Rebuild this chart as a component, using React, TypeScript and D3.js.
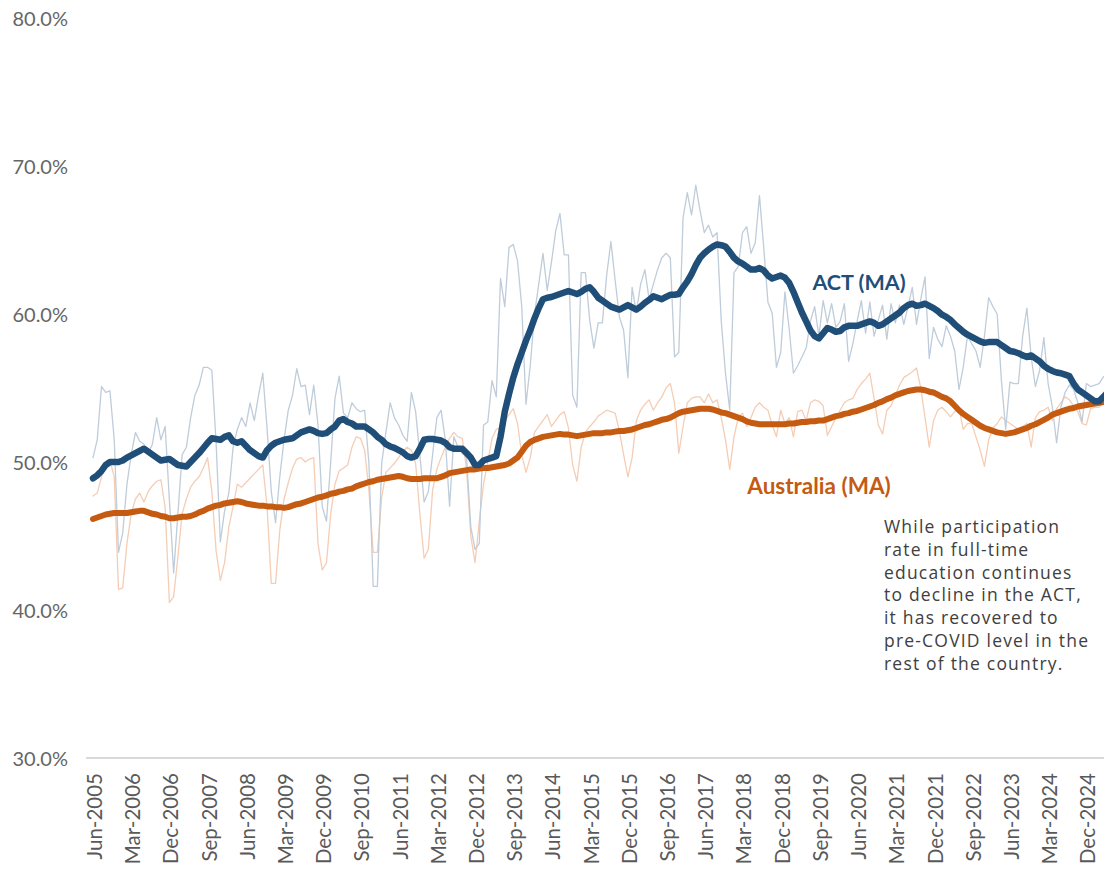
import { useEffect, useRef } from 'react';
import * as d3 from 'd3';

// monthly categories, Jun-2005 .. May-2025
const months = d3.timeMonth
  .range(new Date(2005, 5, 1), new Date(2025, 5, 1))
  .map(d3.timeFormat('%b-%Y'));

const tickLabels = [
  'Jun-2005', 'Mar-2006', 'Dec-2006', 'Sep-2007', 'Jun-2008', 'Mar-2009', 'Dec-2009',
  'Sep-2010', 'Jun-2011', 'Mar-2012', 'Dec-2012', 'Sep-2013', 'Jun-2014', 'Mar-2015',
  'Dec-2015', 'Sep-2016', 'Jun-2017', 'Mar-2018', 'Dec-2018', 'Sep-2019', 'Jun-2020',
  'Mar-2021', 'Dec-2021', 'Sep-2022', 'Jun-2023', 'Mar-2024', 'Dec-2024',
];

const yTicks = [30, 40, 50, 60, 70, 80];

// each row = Jun..May
const actRaw = [
  50.3, 51.5, 55.1, 54.7, 54.8, 51.5, 43.9, 45.2, 48.5, 50.5, 52.0, 51.4,
  51.2, 50.6, 51.2, 53.0, 51.5, 52.4, 47.4, 42.5, 46.5, 50.5, 51.0, 53.0,
  54.5, 55.2, 56.4, 56.4, 56.2, 51.3, 44.6, 46.7, 47.9, 51.0, 52.2, 53.0,
  52.4, 54.0, 52.8, 54.5, 56.0, 52.3, 48.0, 45.9, 49.0, 51.5, 53.5, 54.5,
  56.3, 55.1, 55.2, 53.2, 55.2, 52.5, 47.0, 46.0, 50.0, 54.3, 55.8, 53.3,
  53.0, 54.0, 53.6, 53.4, 53.5, 49.9, 41.6, 41.6, 49.9, 52.0, 54.0, 53.0,
  52.5, 51.8, 51.4, 54.7, 53.4, 50.5, 47.3, 48.0, 50.5, 53.0, 53.5, 51.5,
  47.0, 51.7, 51.0, 50.6, 50.3, 45.6, 44.1, 44.5, 52.5, 52.7, 55.5, 54.4,
  62.4, 60.5, 64.5, 64.7, 63.6, 60.5, 53.9, 56.5, 60.0, 62.0, 64.1, 61.6,
  63.5, 65.6, 66.8, 64.0, 64.0, 54.5, 53.7, 62.8, 62.8, 59.6, 57.7, 59.4,
  59.4, 62.6, 64.9, 62.3, 59.8, 58.9, 55.7, 61.8, 60.1, 62.0, 63.0, 61.0,
  62.0, 63.0, 63.8, 64.1, 63.8, 57.1, 57.4, 66.5, 68.2, 66.7, 68.7, 67.0,
  65.5, 66.0, 65.2, 65.5, 59.5, 56.0, 53.5, 62.8, 63.2, 65.5, 65.9, 64.1,
  64.8, 68.0, 64.5, 60.8, 60.05, 56.4, 57.4, 61.5, 59.0, 56.0, 56.5, 57.1,
  57.7, 59.5, 60.5, 58.5, 60.9, 59.4, 60.7, 59.1, 59.5, 60.7, 56.8, 58.0,
  59.5, 60.9, 58.7, 60.8, 58.5, 59.6, 60.6, 58.3, 60.7, 59.4, 60.6, 59.3,
  60.5, 61.8, 59.3, 61.0, 62.5, 57.0, 59.1, 58.3, 57.8, 59.2, 58.5, 57.5,
  54.9, 56.4, 58.5, 58.0, 57.5, 56.4, 58.5, 61.1, 60.5, 60.0, 55.5, 52.2,
  55.4, 55.3, 55.3, 58.5, 60.4, 57.1, 55.1, 56.2, 58.4, 55.3, 53.7, 51.3,
  53.7, 54.7, 55.2, 54.9, 54.0, 52.7, 55.3, 55.1, 55.2, 55.3, 55.75, 55.9,
];

const actMa = [
  48.9, 49.1, 49.4, 49.8, 50.0, 50.0, 50.0, 50.1, 50.3, 50.45, 50.6, 50.75,
  50.9, 50.7, 50.5, 50.3, 50.1, 50.15, 50.2, 50.0, 49.8, 49.75, 49.7, 50.0,
  50.3, 50.6, 50.95, 51.3, 51.6, 51.55, 51.5, 51.7, 51.8, 51.4, 51.3, 51.4,
  51.1, 50.8, 50.6, 50.4, 50.3, 50.8, 51.1, 51.3, 51.4, 51.5, 51.55, 51.6,
  51.8, 52.0, 52.1, 52.2, 52.1, 51.95, 51.9, 51.95, 52.2, 52.4, 52.8, 52.9,
  52.7, 52.6, 52.4, 52.4, 52.4, 52.2, 52.0, 51.7, 51.5, 51.2, 51.05, 50.95,
  50.8, 50.65, 50.4, 50.3, 50.4, 50.9, 51.5, 51.55, 51.55, 51.5, 51.45, 51.3,
  51.0, 50.9, 50.9, 50.9, 50.6, 50.3, 49.8, 49.8, 50.1, 50.2, 50.3, 50.4,
  51.7, 53.4, 54.6, 55.7, 56.6, 57.4, 58.2, 58.9, 59.7, 60.4, 61.0, 61.1,
  61.15, 61.25, 61.35, 61.45, 61.55, 61.45, 61.35, 61.5, 61.7, 61.8, 61.5, 61.1,
  60.9, 60.7, 60.5, 60.4, 60.3, 60.45, 60.6, 60.45, 60.3, 60.5, 60.75, 60.95,
  61.2, 61.1, 61.0, 61.15, 61.3, 61.3, 61.35, 61.8, 62.2, 62.7, 63.3, 63.8,
  64.1, 64.35, 64.55, 64.7, 64.65, 64.55, 64.2, 63.8, 63.55, 63.4, 63.2, 63.0,
  63.0, 63.1, 62.95, 62.6, 62.4, 62.5, 62.6, 62.45, 62.1, 61.5, 60.8, 60.1,
  59.5, 58.9, 58.5, 58.35, 58.7, 59.05, 58.95, 58.8, 58.85, 59.1, 59.2, 59.2,
  59.2, 59.3, 59.4, 59.5, 59.4, 59.2, 59.3, 59.5, 59.7, 59.9, 60.1, 60.4,
  60.6, 60.7, 60.55, 60.6, 60.7, 60.55, 60.4, 60.2, 59.95, 59.8, 59.6, 59.3,
  59.05, 58.8, 58.6, 58.45, 58.3, 58.15, 58.05, 58.1, 58.1, 58.1, 57.9, 57.7,
  57.5, 57.45, 57.35, 57.2, 57.1, 57.2, 57.0, 56.8, 56.5, 56.3, 56.15, 56.05,
  56.0, 55.9, 55.8, 55.3, 54.9, 54.7, 54.5, 54.3, 54.1, 54.1, 54.4, 54.7,
];

const ausRaw = [
  47.7, 47.9, 49.0, 49.8, 50.1, 49.0, 41.4, 41.5, 44.5, 46.5, 47.5, 47.9,
  47.3, 48.0, 48.4, 48.7, 48.8, 46.9, 40.5, 40.9, 43.6, 46.5, 47.5, 48.3,
  48.7, 49.0, 49.6, 50.3, 48.0, 44.0, 42.0, 43.2, 45.6, 47.0, 48.5, 48.3,
  48.6, 48.9, 49.2, 49.5, 49.8, 47.0, 41.8, 41.8, 45.4, 47.5, 48.6, 49.6,
  50.2, 50.3, 50.0, 50.2, 50.3, 44.5, 42.7, 43.2, 46.5, 48.5, 49.4, 49.6,
  49.8, 51.0, 51.7, 51.6, 50.8, 48.1, 43.9, 43.9, 47.6, 49.3, 49.6, 49.9,
  50.3, 50.7, 51.0, 50.8, 49.9, 46.5, 43.5, 44.1, 48.1, 49.5, 50.3, 51.0,
  51.6, 52.0, 51.7, 51.6, 49.5, 45.0, 43.2, 46.0, 48.5, 50.0, 51.6, 52.2,
  52.3, 52.8, 53.2, 53.6, 52.6, 50.5, 49.3, 50.3, 52.0, 52.4, 52.8, 53.2,
  52.4, 52.8, 53.2, 53.4, 52.3, 49.8, 48.7, 51.0, 52.0, 52.4, 52.7, 53.1,
  53.3, 53.5, 53.4, 53.3, 52.1, 50.5, 49.0, 50.3, 52.8, 53.5, 53.9, 54.2,
  53.5, 54.0, 54.4, 55.0, 55.3, 54.0, 50.6, 52.4, 54.0, 54.3, 54.4, 54.4,
  54.0, 54.6, 54.0, 54.2, 53.0, 51.5, 49.5, 51.7, 53.0, 53.3, 52.4, 53.0,
  53.7, 54.0, 53.7, 53.5, 52.5, 51.7, 53.5, 52.6, 53.0, 51.7, 53.4, 53.5,
  52.8, 54.0, 54.2, 54.1, 53.8, 51.8, 52.4, 53.0, 53.5, 54.0, 54.2, 54.3,
  54.9, 55.3, 55.6, 56.0, 54.3, 52.5, 51.9, 53.5, 53.8, 54.5, 55.2, 55.7,
  55.9, 56.1, 56.35, 55.0, 53.0, 51.0, 52.8, 53.5, 53.7, 53.4, 53.05, 53.4,
  53.65, 52.2, 52.6, 52.6, 51.7, 50.8, 49.7, 51.5, 52.3, 52.6, 53.05, 52.8,
  52.6, 52.4, 52.2, 52.4, 52.6, 51.0, 53.0, 53.4, 53.5, 53.7, 52.8, 53.6,
  54.0, 54.4, 54.2, 53.8, 53.4, 52.6, 52.5, 53.6, 53.7, 53.7, 54.0, 54.1,
];

const ausMa = [
  46.15, 46.25, 46.35, 46.45, 46.5, 46.55, 46.55, 46.55, 46.55, 46.6, 46.65, 46.7,
  46.7, 46.6, 46.5, 46.45, 46.35, 46.3, 46.2, 46.2, 46.25, 46.3, 46.3, 46.35,
  46.45, 46.6, 46.7, 46.85, 46.95, 47.05, 47.1, 47.2, 47.25, 47.3, 47.35, 47.3,
  47.2, 47.15, 47.1, 47.05, 47.05, 47.0, 47.0, 46.95, 46.95, 46.9, 46.95, 47.05,
  47.15, 47.2, 47.3, 47.4, 47.5, 47.6, 47.65, 47.75, 47.85, 47.9, 48.0, 48.05,
  48.15, 48.2, 48.35, 48.45, 48.55, 48.65, 48.7, 48.8, 48.85, 48.9, 48.95, 49.0,
  49.05, 49.0, 48.9, 48.85, 48.85, 48.85, 48.9, 48.9, 48.9, 48.9, 49.0, 49.1,
  49.25, 49.3, 49.35, 49.4, 49.45, 49.5, 49.5, 49.55, 49.6, 49.6, 49.65, 49.7,
  49.75, 49.8, 49.9, 50.1, 50.3, 50.7, 51.1, 51.35, 51.5, 51.6, 51.7, 51.75,
  51.8, 51.85, 51.9, 51.85, 51.85, 51.8, 51.75, 51.8, 51.85, 51.9, 51.95, 51.95,
  51.95, 52.0, 52.0, 52.05, 52.1, 52.1, 52.15, 52.2, 52.3, 52.4, 52.5, 52.55,
  52.65, 52.75, 52.85, 52.9, 53.0, 53.15, 53.3, 53.4, 53.45, 53.5, 53.55, 53.6,
  53.6, 53.6, 53.55, 53.45, 53.35, 53.3, 53.2, 53.1, 53.0, 52.9, 52.75, 52.65,
  52.6, 52.55, 52.55, 52.55, 52.55, 52.55, 52.55, 52.55, 52.6, 52.6, 52.65, 52.7,
  52.7, 52.75, 52.75, 52.8, 52.8, 52.9, 53.0, 53.1, 53.15, 53.25, 53.3, 53.4,
  53.45, 53.55, 53.65, 53.75, 53.85, 54.0, 54.1, 54.25, 54.35, 54.5, 54.6, 54.7,
  54.8, 54.85, 54.9, 54.9, 54.85, 54.75, 54.7, 54.55, 54.4, 54.3, 54.1, 53.8,
  53.5, 53.25, 53.05, 52.85, 52.65, 52.45, 52.3, 52.2, 52.1, 52.0, 51.95, 51.9,
  51.95, 52.0, 52.1, 52.2, 52.3, 52.45, 52.55, 52.7, 52.85, 53.0, 53.2, 53.3,
  53.4, 53.5, 53.6, 53.65, 53.75, 53.8, 53.85, 53.9, 53.95, 54.0, 54.05, 54.1,
];

const note = [
  'While participation',
  'rate in full-time',
  'education continues',
  'to decline in the ACT,',
  'it has recovered to',
  'pre-COVID level in the',
  'rest of the country.',
];

export default function App() {
  const chartRef = useRef<SVGSVGElement>(null);

  useEffect(() => {
    const svg = d3.select(chartRef.current);
    svg.selectAll('*').remove();

    const x = d3.scalePoint<string>().domain(months).range([93, 93 + 239 * 4.245]);
    const y = d3.scaleLinear().domain([30, 80]).range([758, 18]);

    // y labels
    svg.append('g')
      .selectAll('text')
      .data(yTicks)
      .enter().append('text')
      .attr('x', 68)
      .attr('y', d => y(d))
      .attr('text-anchor', 'end')
      .attr('dominant-baseline', 'central')
      .attr('font-family', 'Lato, sans-serif')
      .attr('font-size', 20)
      .attr('fill', '#666666')
      .text(d => d3.format('.1f')(d) + '%');

    // baseline
    svg.append('line')
      .attr('x1', 86).attr('x2', 1104)
      .attr('y1', y(30)).attr('y2', y(30))
      .attr('stroke', '#D9D9D9')
      .attr('stroke-width', 2);

    // x labels
    svg.append('g')
      .selectAll('text')
      .data(tickLabels)
      .enter().append('text')
      .attr('transform', d => `translate(${(x(d) as number) + 1},${773}) rotate(-90)`)
      .attr('text-anchor', 'end')
      .attr('dominant-baseline', 'central')
      .attr('font-family', 'Lato, sans-serif')
      .attr('font-size', 20.5)
      .attr('fill', '#595959')
      .text(d => d);

    const line = d3.line<number>()
      .x((_, i) => x(months[i]) as number)
      .y(d => y(d));

    const series = [
      { values: ausRaw, color: '#F5CDB4', width: 1.3 },
      { values: actRaw, color: '#BFCCDA', width: 1.3 },
      { values: ausMa, color: '#C55A11', width: 6 },
      { values: actMa, color: '#1F4E79', width: 6.5 },
    ];

    svg.append('g')
      .selectAll('path')
      .data(series)
      .enter().append('path')
      .attr('d', d => line(d.values))
      .attr('fill', 'none')
      .attr('stroke', d => d.color)
      .attr('stroke-width', d => d.width)
      .attr('stroke-linejoin', 'round')
      .attr('stroke-linecap', 'round');

    // series labels
    svg.append('text')
      .attr('x', 859).attr('y', 282)
      .attr('text-anchor', 'middle')
      .attr('dominant-baseline', 'central')
      .attr('font-family', 'Lato, sans-serif')
      .attr('font-weight', 'bold')
      .attr('font-size', 21.5)
      .attr('fill', '#1F4E79')
      .text('ACT (MA)');

    svg.append('text')
      .attr('x', 819).attr('y', 485)
      .attr('text-anchor', 'middle')
      .attr('dominant-baseline', 'central')
      .attr('font-family', 'Lato, sans-serif')
      .attr('font-weight', 'bold')
      .attr('font-size', 22.5)
      .attr('fill', '#C55A11')
      .text('Australia (MA)');

    // annotation
    svg.append('g')
      .selectAll('text')
      .data(note)
      .enter().append('text')
      .attr('x', 884)
      .attr('y', (_, i) => 533 + i * 22.8)
      .attr('font-family', '"Open Sans", sans-serif')
      .attr('font-size', 17.5)
      .attr('letter-spacing', 1.2)
      .attr('fill', '#404040')
      .text(d => d);
  }, []);

  return (
    <svg
      ref={chartRef}
      width="1104"
      height="872"
      style={{ position: 'absolute', left: 0, top: 0, background: '#fff' }}
    ></svg>
  );
}
